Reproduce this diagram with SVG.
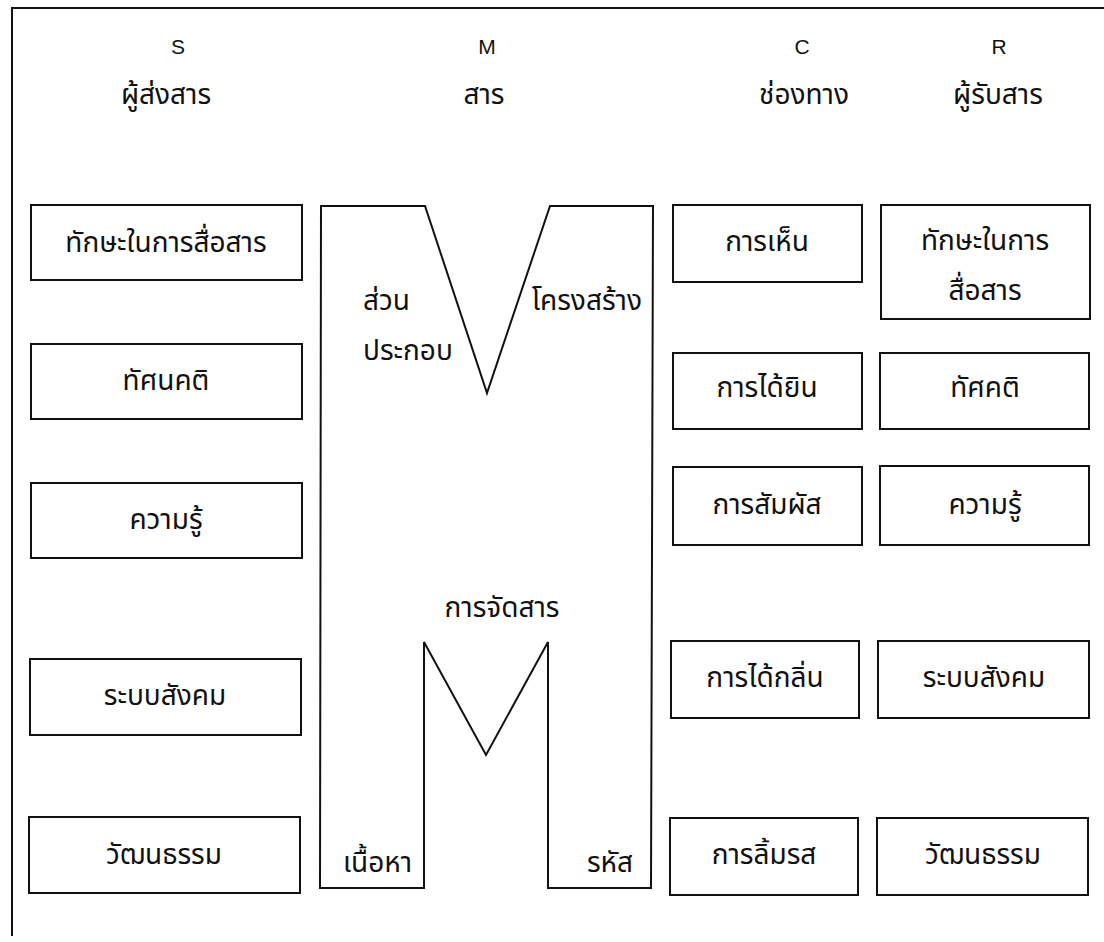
<svg xmlns="http://www.w3.org/2000/svg" width="1104" height="942" viewBox="0 0 1104 942">
<style>
.bx{fill:#fff;stroke:#111;stroke-width:2}
.fr{fill:none;stroke:#111;stroke-width:2}
.t{font-family:"Noto Sans Thai","Noto Sans","Liberation Sans",sans-serif;font-size:28px;fill:#111;text-anchor:middle}
.h{font-family:"Liberation Sans",sans-serif;font-size:21px;fill:#111;text-anchor:middle}
.l{text-anchor:start}
.r{text-anchor:end}
</style>
<rect width="1104" height="942" fill="#fff"/>
<g id="frame"><path class="fr" d="M1104 8 L12 8 L12 936"/></g>
<g id="headers">
<text class="h" x="178" y="54">S</text>
<text class="t" x="166" y="104">ผู้ส่งสาร</text>
<text class="h" x="487" y="54">M</text>
<text class="t" x="484" y="104">สาร</text>
<text class="h" x="802" y="54">C</text>
<text class="h" x="999" y="54">R</text>
<text class="t" x="804" y="104">ช่องทาง</text>
<text class="t" x="998" y="104">ผู้รับสาร</text>
</g>
<g id="s1"><rect class="bx" x="31" y="205" width="271" height="75"/><text class="t" x="166" y="252">ทักษะในการสื่อสาร</text></g>
<g id="s2"><rect class="bx" x="31" y="344" width="271" height="75"/><text class="t" x="166" y="390">ทัศนคติ</text></g>
<g id="s3"><rect class="bx" x="31" y="483" width="271" height="75"/><text class="t" x="166" y="529">ความรู้</text></g>
<g id="s4"><rect class="bx" x="30" y="659" width="271" height="76"/><text class="t" x="165" y="705">ระบบสังคม</text></g>
<g id="s5"><rect class="bx" x="29" y="817" width="271" height="76"/><text class="t" x="164" y="864">วัฒนธรรม</text></g>
<g id="m">
<path class="fr" d="M321 206 L425 206 L487 393 L550 206 L653 206 L651 888 L548 888 L548 642 L486 755 L424 642 L424 888 L320 888 Z"/>
<text class="t l" x="363" y="310">ส่วน</text>
<text class="t l" x="363" y="360">ประกอบ</text>
<text class="t r" x="642" y="310">โครงสร้าง</text>
<text class="t" x="502" y="617">การจัดสาร</text>
<text class="t l" x="343" y="872">เนื้อหา</text>
<text class="t r" x="633" y="872">รหัส</text>
</g>
<g id="c1"><rect class="bx" x="673" y="205" width="189" height="77"/><text class="t" x="767" y="251">การเห็น</text></g>
<g id="c2"><rect class="bx" x="673" y="353" width="189" height="76"/><text class="t" x="767" y="397">การได้ยิน</text></g>
<g id="c3"><rect class="bx" x="673" y="467" width="189" height="78"/><text class="t" x="767" y="514">การสัมผัส</text></g>
<g id="c4"><rect class="bx" x="671" y="641" width="188" height="77"/><text class="t" x="765" y="687">การได้กลิ่น</text></g>
<g id="c5"><rect class="bx" x="670" y="818" width="188" height="77"/><text class="t" x="764" y="864">การลิ้มรส</text></g>
<g id="r1"><rect class="bx" x="881" y="205" width="209" height="114"/><text class="t" x="985" y="250">ทักษะในการ</text><text class="t" x="985" y="300">สื่อสาร</text></g>
<g id="r2"><rect class="bx" x="880" y="353" width="209" height="76"/><text class="t" x="985" y="397">ทัศคติ</text></g>
<g id="r3"><rect class="bx" x="880" y="466" width="209" height="79"/><text class="t" x="985" y="514">ความรู้</text></g>
<g id="r4"><rect class="bx" x="878" y="641" width="211" height="77"/><text class="t" x="984" y="687">ระบบสังคม</text></g>
<g id="r5"><rect class="bx" x="877" y="818" width="211" height="77"/><text class="t" x="983" y="864">วัฒนธรรม</text></g>
</svg>
